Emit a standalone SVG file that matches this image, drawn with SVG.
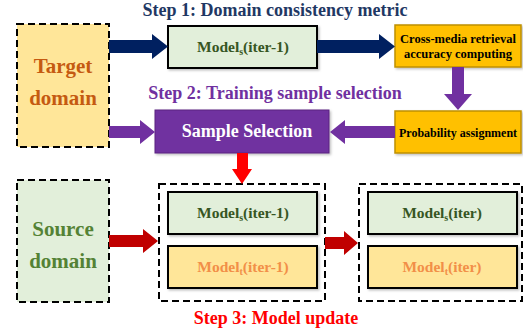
<svg xmlns="http://www.w3.org/2000/svg" width="523" height="335" viewBox="0 0 523 335">
<style>
text{font-family:"Liberation Serif","Times New Roman",serif;font-weight:bold;text-anchor:middle}
.dash{stroke:#000;stroke-width:2;stroke-dasharray:7,4;fill:none}
.dom{stroke:#000;stroke-width:2;stroke-dasharray:7,4}
.mbox{stroke:#000;stroke-width:2}
.gold{fill:#FFC000;stroke:#BF9000;stroke-width:1.5}
.ms{fill:#E2EFDA}
.mt{fill:#FFE699}
.tms{fill:#375623;font-size:15.5px}
.tmt{fill:#F28F48;font-size:15.5px}
.sub{font-size:10px}
.step{font-size:18px}
.big{font-size:21px}
.small{font-size:12.5px;fill:#000}
</style>
<defs>
<filter id="sh" x="-5%" y="-5%" width="115%" height="125%">
<feDropShadow dx="1.5" dy="1.5" stdDeviation="1" flood-color="#000" flood-opacity="0.25"/>
</filter>
</defs>

<g id="labels">
<text x="275" y="16" class="step" fill="#1F3864">Step 1: Domain consistency metric</text>
<text x="275" y="99" class="step" fill="#7030A0">Step 2: Training sample selection</text>
<text x="276" y="324" class="step" fill="#FF0000">Step 3: Model update</text>
</g>

<g id="target-domain">
<rect x="17" y="24" width="92" height="123" fill="#FFE699" class="dom"/>
<text x="63" y="73" class="big" fill="#C55A11">Target</text>
<text x="63" y="105" class="big" fill="#C55A11">domain</text>
</g>

<g id="source-domain">
<rect x="17" y="180" width="92" height="122" fill="#E2EFDA" class="dom"/>
<text x="63" y="236" class="big" fill="#548235">Source</text>
<text x="63" y="268" class="big" fill="#548235">domain</text>
</g>

<g id="model-s-iter-1-top">
<rect x="168" y="26" width="149" height="42" class="mbox ms" filter="url(#sh)"/>
<text x="243" y="52" class="tms">Model<tspan class="sub" dy="3">s</tspan><tspan dy="-3">(iter-1)</tspan></text>
</g>

<g id="cross-media">
<rect x="395" y="25" width="126" height="42" class="gold" filter="url(#sh)"/>
<text x="458" y="43" class="small">Cross-media retrieval</text>
<text x="458" y="58" class="small">accuracy computing</text>
</g>

<g id="probability">
<rect x="395" y="111" width="126" height="42" class="gold" filter="url(#sh)"/>
<text x="458" y="137" font-size="12" fill="#000">Probability assignment</text>
</g>

<g id="sample-selection">
<rect x="155" y="110" width="174" height="43" fill="#7030A0" stroke="#5A2480" stroke-width="1" filter="url(#sh)"/>
<text x="247" y="137" font-size="18" fill="#FFFFFF">Sample Selection</text>
</g>

<g id="models-old">
<rect x="159" y="184" width="166" height="117" class="dash"/>
<rect x="168" y="192" width="149" height="42" class="mbox ms" filter="url(#sh)"/>
<text x="243" y="218" class="tms">Model<tspan class="sub" dy="3">s</tspan><tspan dy="-3">(iter-1)</tspan></text>
<rect x="168" y="246" width="149" height="42" class="mbox mt" filter="url(#sh)"/>
<text x="243" y="272" class="tmt">Model<tspan class="sub" dy="3">t</tspan><tspan dy="-3">(iter-1)</tspan></text>
</g>

<g id="models-new">
<rect x="359" y="184" width="163" height="117" class="dash"/>
<rect x="368" y="192" width="149" height="42" class="mbox ms" filter="url(#sh)"/>
<text x="442" y="218" class="tms">Model<tspan class="sub" dy="3">s</tspan><tspan dy="-3">(iter)</tspan></text>
<rect x="368" y="246" width="149" height="42" class="mbox mt" filter="url(#sh)"/>
<text x="442" y="272" class="tmt">Model<tspan class="sub" dy="3">t</tspan><tspan dy="-3">(iter)</tspan></text>
</g>

<g id="connectors">
<polygon points="109,40 152,40 152,34 168,46.5 152,59 152,53 109,53" fill="#002060"/>
<polygon points="317,40 379,40 379,34 395,46.5 379,59 379,53 317,53" fill="#002060"/>
<polygon points="452,67 464,67 464,94 472,94 458,110 444,94 452,94" fill="#7030A0"/>
<polygon points="395,126 345,126 345,120 330,132 345,144 345,138 395,138" fill="#7030A0"/>
<polygon points="109,126 140,126 140,120 155,132 140,144 140,138 109,138" fill="#7030A0"/>
<polygon points="237,153 248,153 248,169 252,169 242,184 232,169 237,169" fill="#FF0000"/>
<polygon points="109,235 143,235 143,229 158,241 143,253 143,247 109,247" fill="#C00000"/>
<polygon points="325,237 344,237 344,231 358,243 344,255 344,249 325,249" fill="#C00000"/>
</g>
</svg>
